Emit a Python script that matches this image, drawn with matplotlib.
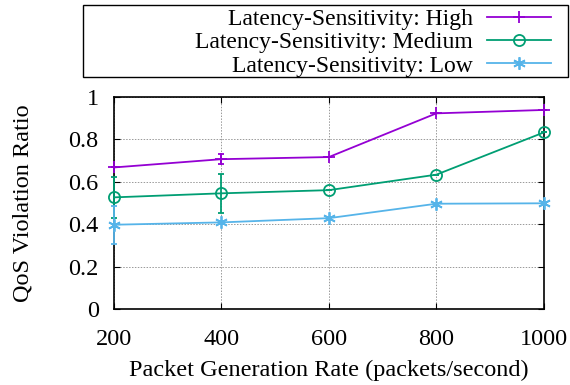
import numpy as np
import matplotlib.pyplot as plt
from matplotlib.lines import Line2D
from matplotlib.patches import Rectangle

# packet generation rates (packets/second)
rates = [200, 400, 600, 800, 1000]

# QoS violation ratio per latency-sensitivity class
high = [0.668, 0.707, 0.717, 0.923, 0.939]
high_err = [0.0, 0.024, 0.0, 0.0, 0.0]
medium = [0.527, 0.546, 0.561, 0.634, 0.833]
medium_err = [0.095, 0.091, 0.0, 0.0, 0.0]
low = [0.398, 0.409, 0.429, 0.497, 0.499]
low_err = [0.09, 0.0, 0.0, 0.0, 0.0]

series = [
    ('Latency-Sensitivity: High', high, high_err, '#9400d3', '+', 8),
    ('Latency-Sensitivity: Medium', medium, medium_err, '#009e73', 'o', 8),
    ('Latency-Sensitivity: Low', low, low_err, '#56b4e9', (6, 2, 0), 9),
]

plt.rcParams['font.family'] = ['Liberation Serif', 'DejaVu Serif']
plt.rcParams['font.size'] = 17.5

fig = plt.figure(figsize=(5.7, 3.85), dpi=100)
ax = fig.add_axes([0.2, 0.197, 0.754, 0.551])

handles = []
for label, vals, err, color, marker, ms in series:
    style = dict(color=color, marker=marker, markersize=ms,
                 markerfacecolor='none', markeredgewidth=1.3, linewidth=1.3)
    ax.errorbar(rates, vals, yerr=err, elinewidth=1.3, capsize=2,
                clip_on=False, zorder=3, **style)
    handles.append(Line2D([], [], label=label, **style))

ax.set_xlim(200, 1000)
ax.set_ylim(0, 1)
ax.set_xticks(rates)
ax.set_yticks([0, 0.2, 0.4, 0.6, 0.8, 1.0])
ax.set_yticklabels(['0', '0.2', '0.4', '0.6', '0.8', '1'])
ax.tick_params(direction='in', top=True, right=True, length=4, width=0.8)
ax.tick_params(axis='y', pad=11)
ax.tick_params(axis='x', pad=14)
ax.grid(True, color='#999999', linestyle=(0, (1.5, 1.5)), linewidth=0.7)
for sp in ax.spines.values():
    sp.set_linewidth(1.2)

ax.set_xlabel('Packet Generation Rate (packets/second)', labelpad=7)
ax.set_ylabel('QoS Violation Ratio', labelpad=25)

# key above the plot, text right-aligned in front of the samples
fig.patches.append(Rectangle((83 / 570, 1 - 77 / 385), 485 / 570, 72 / 385,
                             transform=fig.transFigure, fill=False,
                             edgecolor='black', linewidth=1.0))
fig.legend(handles=handles, loc='upper right', fontsize=17,
           bbox_to_anchor=(566 / 570, 1 + 7 / 385), frameon=False,
           markerfirst=False, handlelength=2.7, handletextpad=0.6,
           labelspacing=0.08, borderpad=0.15)

fig.savefig('out.png', dpi=100)
